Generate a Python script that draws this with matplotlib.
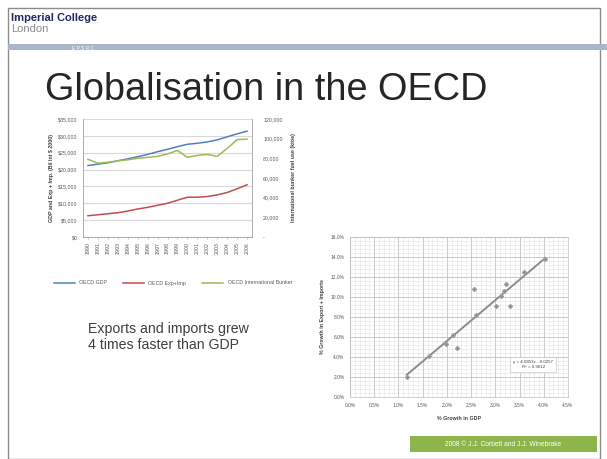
import numpy as np
import matplotlib
matplotlib.use("Agg")
import matplotlib.pyplot as plt
from matplotlib.ticker import FuncFormatter, MultipleLocator
from matplotlib.patches import Rectangle

W, H = 607, 459

# left chart: OECD series 1990-2006
years = list(range(1990, 2007))
gdp = [21.2, 21.6, 22.0, 22.6, 23.2, 23.8, 24.5, 25.3, 26.0, 26.8, 27.5, 27.8, 28.2, 28.8, 29.7, 30.6, 31.4]      # $ thousand bil
trade = [6.3, 6.6, 6.9, 7.2, 7.7, 8.3, 8.8, 9.4, 10.0, 10.9, 11.8, 11.8, 12.0, 12.5, 13.2, 14.3, 15.5]          # $ thousand bil
bunker = [79, 75, 76, 77.5, 78.5, 80, 81, 82, 84.5, 88, 81, 83, 84, 82, 90, 99, 99.5]                            # thousands
series_names = ["OECD GDP", "OECD Exp+Imp", "OECD International Bunker"]

# right chart: growth rates (%)
gdp_growth = [1.17, 1.63, 1.98, 2.12, 2.20, 2.60, 2.56, 3.01, 3.11, 3.18, 3.22, 3.31, 3.60, 4.03]
trade_growth = [2.0, 4.1, 5.35, 6.2, 4.95, 8.2, 10.8, 9.1, 10.1, 10.6, 11.3, 9.1, 12.5, 13.8]


def box(x0, y0, x1, y1):
    return [x0 / W, 1 - y1 / H, (x1 - x0) / W, (y1 - y0) / H]


plt.rcParams['font.family'] = ['Liberation Sans', 'DejaVu Sans']
fig = plt.figure(figsize=(W / 100, H / 100), dpi=100)

# slide decoration
fig.patches.append(Rectangle((8 / W, 0), (600 - 8) / W, 1 - 8 / H, transform=fig.transFigure,
                             fill=False, ec='#8c8c8c', lw=1))
fig.patches.append(Rectangle((8 / W, 1 - 50 / H), (W - 8) / W, 6 / H, transform=fig.transFigure,
                             color='#aab5cc', lw=0))
fig.text(11 / W, 1 - 21 / H, "Imperial College", fontsize=8, fontweight='bold', color='#1f2a66')
fig.text(11 / W, 1 - 32 / H, "London", fontsize=8, color='#8c8c8c')
fig.text(72 / W, 1 - 49.5 / H, "E P S R C", fontsize=3.5, color='white')
fig.text(45 / W, 1 - 100 / H, "Globalisation in the OECD", fontsize=27.3, color='#262626')
fig.patches.append(Rectangle((410 / W, 1 - 452 / H), 187 / W, 16 / H, transform=fig.transFigure,
                             color='#8db54b', lw=0))
fig.text(503 / W, 1 - 444 / H, "2008 © J.J. Corbett and J.J. Winebrake", fontsize=4.8,
         color='white', ha='center', va='center')
fig.text(88 / W, 1 - 337 / H, "Exports and imports grew\n4 times faster than GDP",
         fontsize=10.2, color='#404040', va='center', linespacing=1.25)

# ---- left chart
x = np.arange(len(years))
ax = fig.add_axes(box(83, 119, 252, 237))
l1, = ax.plot(x, np.array(gdp) * 1000, color='#4f81bd', lw=1.1)
l2, = ax.plot(x, np.array(trade) * 1000, color='#c0504d', lw=1.1)
ax.set_ylim(0, 35000)
ax.set_xlim(-0.5, len(years) - 0.5)
ax.set_yticks(range(0, 35001, 5000))
ax.yaxis.set_major_formatter(FuncFormatter(lambda v, p: "$%s" % format(int(v), ",")))
ax.yaxis.grid(True, color='#d9d9d9', lw=0.8)
ax.set_axisbelow(True)
ax.set_xticks(x)
ax.set_xticklabels([str(y) for y in years], rotation=90, fontsize=3.8, color='#595959')
ax.tick_params(axis='y', labelsize=3.8, labelcolor='#595959', length=0, pad=4)
ax.tick_params(axis='x', length=1.5, width=0.4, color='#a6a6a6', pad=2)
ax.set_ylabel("GDP and Exp + Imp. (Bil Int $ 2000)", fontsize=3.8, fontweight='bold',
              color='#404040', labelpad=3)
ax.spines['top'].set_visible(False)
for s in ['left', 'bottom', 'right']:
    ax.spines[s].set_color('#a6a6a6')
    ax.spines[s].set_linewidth(0.5)

ax2 = ax.twinx()
l3, = ax2.plot(x, np.array(bunker) * 1000, color='#9bbb59', lw=1.1)
ax2.set_ylim(0, 120000)
ax2.set_yticks(range(0, 120001, 20000))
ax2.yaxis.set_major_formatter(FuncFormatter(lambda v, p: "-" if v == 0 else format(int(v), ",")))
ax2.tick_params(axis='y', labelsize=3.8, labelcolor='#595959', length=0, pad=8)
ax2.set_ylabel("International bunker fuel use (ktoe)", fontsize=3.8, fontweight='bold',
               color='#404040', labelpad=6)
ax2.spines['top'].set_visible(False)
for s in ['left', 'bottom', 'right']:
    ax2.spines[s].set_color('#a6a6a6')
    ax2.spines[s].set_linewidth(0.5)

fig.legend([l1, l2, l3], series_names, loc='center', bbox_to_anchor=(173 / W, 1 - 283 / H),
           ncol=3, fontsize=3.8, frameon=False, handlelength=4, columnspacing=3,
           labelcolor='#595959')

# ---- right chart (scatter)
axs = fig.add_axes(box(350, 237, 568, 397))
axs.set_xlim(0, 4.5)
axs.set_ylim(0, 16)
axs.xaxis.set_major_locator(MultipleLocator(0.5))
axs.xaxis.set_minor_locator(MultipleLocator(0.1))
axs.yaxis.set_major_locator(MultipleLocator(2))
axs.yaxis.set_minor_locator(MultipleLocator(0.4))
axs.xaxis.set_major_formatter(FuncFormatter(lambda v, p: "%.1f%%" % v))
axs.yaxis.set_major_formatter(FuncFormatter(lambda v, p: "%.1f%%" % v))
axs.grid(True, which='major', color='#bfbfbf', lw=0.6)
axs.grid(True, which='minor', color='#e3e3e3', lw=0.4)
axs.set_axisbelow(True)
axs.tick_params(which='both', length=0, labelsize=3.5, labelcolor='#595959', pad=4)
for s in axs.spines.values():
    s.set_color('#bfbfbf')
    s.set_linewidth(0.5)

slope, icpt = np.polyfit(gdp_growth, trade_growth, 1)
xs = np.array([min(gdp_growth), max(gdp_growth)])
axs.plot(xs, slope * xs + icpt, color='#8c8c8c', lw=1.4, zorder=2)
axs.plot(gdp_growth, trade_growth, 'D', color='#7f7f7f', ms=2, mec='#a0a0a0', zorder=3)
r2 = np.corrcoef(gdp_growth, trade_growth)[0, 1] ** 2
axs.text(3.78, 3.25, "y = %.4fx - %.4f\nR² = %.4f" % (slope, -icpt / 100, r2),
         fontsize=3.2, color='#404040', ha='center', va='center',
         bbox=dict(boxstyle='square,pad=0.7', fc='white', ec='#bfbfbf', lw=0.4))
axs.set_xlabel("% Growth in GDP", fontsize=3.8, fontweight='bold', color='#404040', labelpad=6)
axs.set_ylabel("% Growth in Export + Imports", fontsize=3.8, fontweight='bold',
               color='#404040', labelpad=4)

fig.savefig("out.png", dpi=100)
